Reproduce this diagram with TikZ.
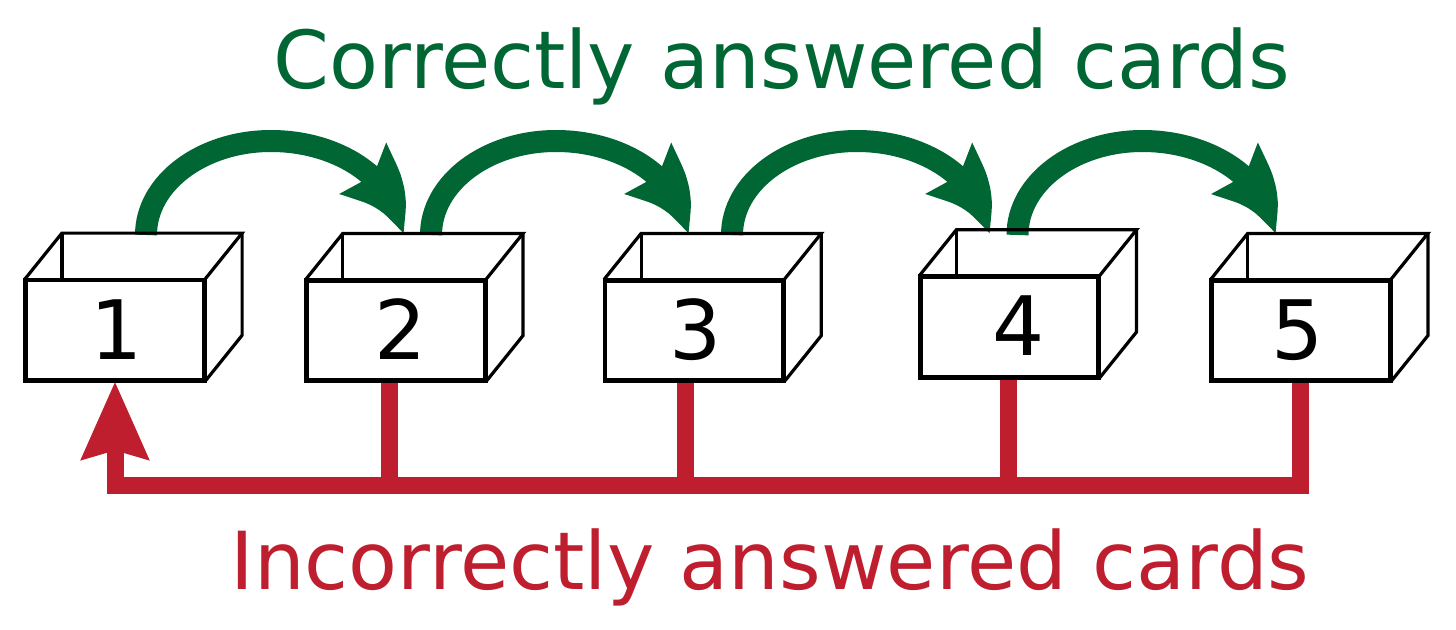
\documentclass[tikz,border=0pt]{standalone}
\usepackage{fontspec}
\setmainfont{DejaVu Sans}
\usetikzlibrary{arrows.meta,bending,calc}
\definecolor{cgreen}{HTML}{006633}
\definecolor{cred}{HTML}{BE1E2D}
\tikzset{
  boxfront/.style={draw=black, line width=3.2pt, minimum width=177pt, minimum height=99pt, inner sep=0pt},
  boxedge/.style={draw=black, line width=3.2pt},
  digit/.style={anchor=base, inner sep=0pt, font=\fontsize{82}{96}\selectfont, text=black},
  greenarrow/.style={draw=cgreen, line width=22pt, -{Stealth[length=76pt, width=66pt, inset=10pt, bend]}},
  redline/.style={draw=cred, line width=17pt},
  redarrow/.style={redline, {Stealth[length=77pt, width=65pt, inset=8pt]}-},
  caption/.style={anchor=base, inner sep=0pt, font=\fontsize{80}{96}\selectfont}
}
\begin{document}
\begin{tikzpicture}[x=1pt, y=-1pt]
\useasboundingbox (0,0) rectangle (1456,629);

% box front faces (named)
\node[boxfront] (b1) at (115,330.2) {};
\node[boxfront] (b2) at (395.9,330.5) {};
\node[boxfront] (b3) at (694.2,330.5) {};
\node[boxfront] (b4) at (1009.4,326.9) {};
\node[boxfront] (b5) at (1300.8,330.5) {};

% green arrows (half ellipses)
\coordinate (g1s) at (146,235);    \coordinate (g1m) at (271,141);    \coordinate (g1e) at (400,235);
\coordinate (g2s) at (431,235);    \coordinate (g2m) at (556,141);    \coordinate (g2e) at (685,235);
\coordinate (g3s) at (732,235);    \coordinate (g3m) at (857,141);    \coordinate (g3e) at (986,235);
\coordinate (g4s) at (1017.5,235); \coordinate (g4m) at (1142.5,141); \coordinate (g4e) at (1272,235);
\foreach \i in {1,2,3,4}{
  \draw[greenarrow] (g\i s) .. controls +(0,-52) and +(-69,0) .. (g\i m)
                            .. controls +(71,0) and +(0,-52) .. (g\i e);
}

% red connectors
\coordinate (r2) at (389,380);
\coordinate (r3) at (685,380);
\coordinate (r4) at (1008,376.4);
\coordinate (r5) at (1300.5,380);
\coordinate (j5) at (1300.5,485);
\draw[redarrow, line join=miter] (b1.south) |- (j5) -- (r5);
\draw[redline] (r2) -- (r2 |- j5);
\draw[redline] (r3) -- (r3 |- j5);
\draw[redline] (r4) -- (r4 |- j5);

% box outlines (drawn on top)
\foreach \b in {b1,b2,b3,b4,b5}{
  \draw[boxedge] (\b.north west) rectangle (\b.south east);
  \draw[boxedge] (\b.north west) -- ++(37,-46) -- ($(\b.north east)+(37,-46)$) -- (\b.north east);
  \draw[boxedge] ($(\b.north east)+(37,-46)$) -- ($(\b.south east)+(37,-46)$) -- (\b.south east);
  \draw[boxedge] ($(\b.north west)+(37,-46)$) -- ($(\b.north west)+(37,0)$);
}

% digits
\node[digit] (d1) at (117,359) {1};
\node[digit] (d2) at (401,359) {2};
\node[digit] (d3) at (696,359) {3};
\node[digit] (d4) at (1019,355.5) {4};
\node[digit] (d5) at (1298,359) {5};

% captions
\node[caption, text=cgreen] (top) at (782,88.3) {Correctly answered cards};
\node[caption, text=cred] (bottom) at (770,589) {Incorrectly answered cards};
\end{tikzpicture}
\end{document}
